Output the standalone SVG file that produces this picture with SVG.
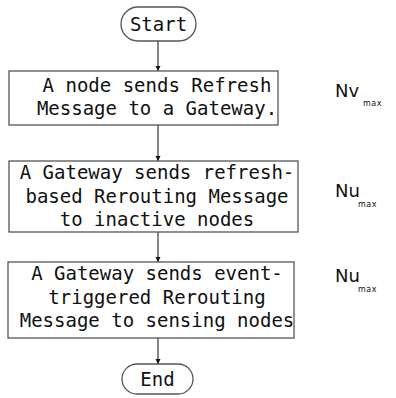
<svg xmlns="http://www.w3.org/2000/svg" width="396" height="398" viewBox="0 0 396 398">
<defs>
<style>
.box{fill:#fff;stroke:#555;stroke-width:1.3}
.t{font-family:"DejaVu Sans Mono","Liberation Mono",monospace;font-size:19px;fill:#111;text-anchor:middle}
.lbl{font-family:"DejaVu Sans","Liberation Sans",sans-serif;font-size:18px;fill:#111}
.sub{font-family:"DejaVu Sans","Liberation Sans",sans-serif;font-size:8px;fill:#111;letter-spacing:0.5px}
.conn{stroke:#222;stroke-width:1.1;fill:none;marker-end:url(#ah)}
</style>
<marker id="ah" viewBox="0 0 10 10" refX="10" refY="5" markerWidth="5" markerHeight="8" markerUnits="userSpaceOnUse" orient="auto">
<path d="M0,0 L10,5 L0,10 z" fill="#111"/>
</marker>
</defs>
<rect width="396" height="398" fill="#fff"/>
<g id="connectors">
<line class="conn" x1="158" y1="41" x2="158" y2="71"/>
<line class="conn" x1="158" y1="125" x2="158" y2="161"/>
<line class="conn" x1="158" y1="232" x2="158" y2="262"/>
<line class="conn" x1="158" y1="338" x2="158" y2="364"/>
</g>
<g id="start">
<rect class="box" x="121" y="7" width="75" height="34" rx="17" ry="17"/>
<text class="t" x="158.5" y="31">Start</text>
</g>
<g id="step1">
<rect class="box" x="9" y="71" width="269" height="54"/>
<text class="t" x="157" y="91.5">A node sends Refresh</text>
<text class="t" x="157" y="114.5">Message to a Gateway.</text>
</g>
<g id="step2">
<rect class="box" x="9" y="161" width="289" height="71"/>
<text class="t" x="157" y="179">A Gateway sends refresh-</text>
<text class="t" x="157" y="202.5">based Rerouting Message</text>
<text class="t" x="157" y="226">to inactive nodes</text>
</g>
<g id="step3">
<rect class="box" x="8" y="262" width="286" height="76"/>
<text class="t" x="157" y="280">A Gateway sends event-</text>
<text class="t" x="157" y="303.5">triggered Rerouting</text>
<text class="t" x="157" y="327">Message to sensing nodes</text>
</g>
<g id="end">
<rect class="box" x="122" y="364" width="71" height="30" rx="15" ry="15"/>
<text class="t" x="157.5" y="386">End</text>
</g>
<g id="label1">
<text class="lbl" x="335" y="97">Nv</text>
<text class="sub" x="363" y="106">max</text>
</g>
<g id="label2">
<text class="lbl" x="335" y="197">Nu</text>
<text class="sub" x="358" y="207">max</text>
</g>
<g id="label3">
<text class="lbl" x="335" y="282">Nu</text>
<text class="sub" x="358" y="292">max</text>
</g>
</svg>
